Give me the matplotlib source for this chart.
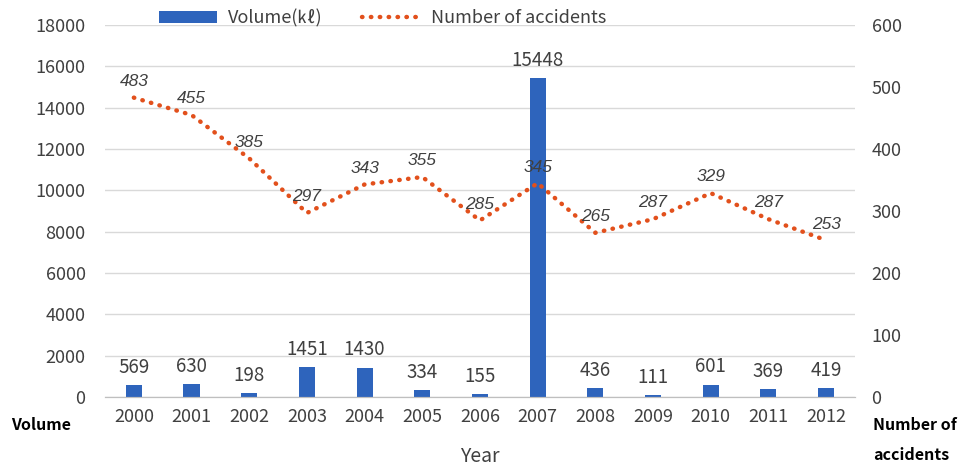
import matplotlib
matplotlib.use("Agg")
import matplotlib.pyplot as plt
import numpy as np

plt.rcParams['font.family'] = ['Noto Sans CJK KR', 'DejaVu Sans']

years = ["2000", "2001", "2002", "2003", "2004", "2005", "2006",
         "2007", "2008", "2009", "2010", "2011", "2012"]
volume = [569, 630, 198, 1451, 1430, 334, 155, 15448, 436, 111, 601, 369, 419]
accidents = [483, 455, 385, 297, 343, 355, 285, 345, 265, 287, 329, 287, 253]

text_col = "#404040"
bar_col = "#2E64BC"
line_col = "#E2501C"

fig = plt.figure(figsize=(9.59, 4.65), dpi=100)
ax = fig.add_axes([0.1095, 0.146, 0.782, 0.8])
ax2 = ax.twinx()

x = np.arange(len(years))
bars = ax.bar(x, volume, width=0.28, color=bar_col, label="Volume(㎘)", zorder=2)
for xi, v in zip(x, volume):
    ax.text(xi, v + 350, str(v), ha="center", va="bottom", fontsize=13.5, color=text_col)

line, = ax2.plot(x, accidents, color=line_col, linestyle=(0, (0.1, 1.9)), linewidth=3.2,
                 dash_capstyle="round", label="Number of accidents", zorder=3)
for xi, v in zip(x, accidents):
    ax2.text(xi, v + 14, str(v), ha="center", va="bottom", fontsize=12.5, style="italic",
             family=["Liberation Sans", "DejaVu Sans"], color=text_col)

ax.set_xlim(-0.5, len(years) - 0.5)
ax.set_ylim(0, 18000)
ax.set_yticks(np.arange(0, 18001, 2000))
ax2.set_ylim(0, 600)
ax2.set_yticks(np.arange(0, 601, 100))
ax.set_xticks(x)
ax.set_xticklabels(years)

ax.grid(axis="y", color="#D9D9D9", linewidth=1, zorder=0)
ax.set_axisbelow(True)
for a in (ax, ax2):
    for s in ("top", "left", "right"):
        a.spines[s].set_visible(False)
    a.spines["bottom"].set_color("#BFBFBF")
    a.tick_params(length=0, labelsize=13, labelcolor=text_col)
ax.tick_params(axis="y", pad=14)
ax2.tick_params(axis="y", pad=12)
ax.tick_params(axis="x", pad=8)

ax.set_xlabel("Year", fontsize=14, color=text_col, labelpad=14)

fig.text(0.012, 0.085, "Volume", fontsize=11.5, fontweight="bold", ha="left", va="center")
fig.text(0.91, 0.085, "Number of", fontsize=11.5, fontweight="bold", ha="left", va="center")
fig.text(0.91, 0.022, "accidents", fontsize=11.5, fontweight="bold", ha="left", va="center")

fig.legend(handles=[bars, line], loc="center", bbox_to_anchor=(0.399, 0.961), ncol=2,
           frameon=False, fontsize=13, labelcolor=text_col, handlelength=3.2,
           columnspacing=2.2, handletextpad=0.6)

fig.savefig("out.png", dpi=100)
